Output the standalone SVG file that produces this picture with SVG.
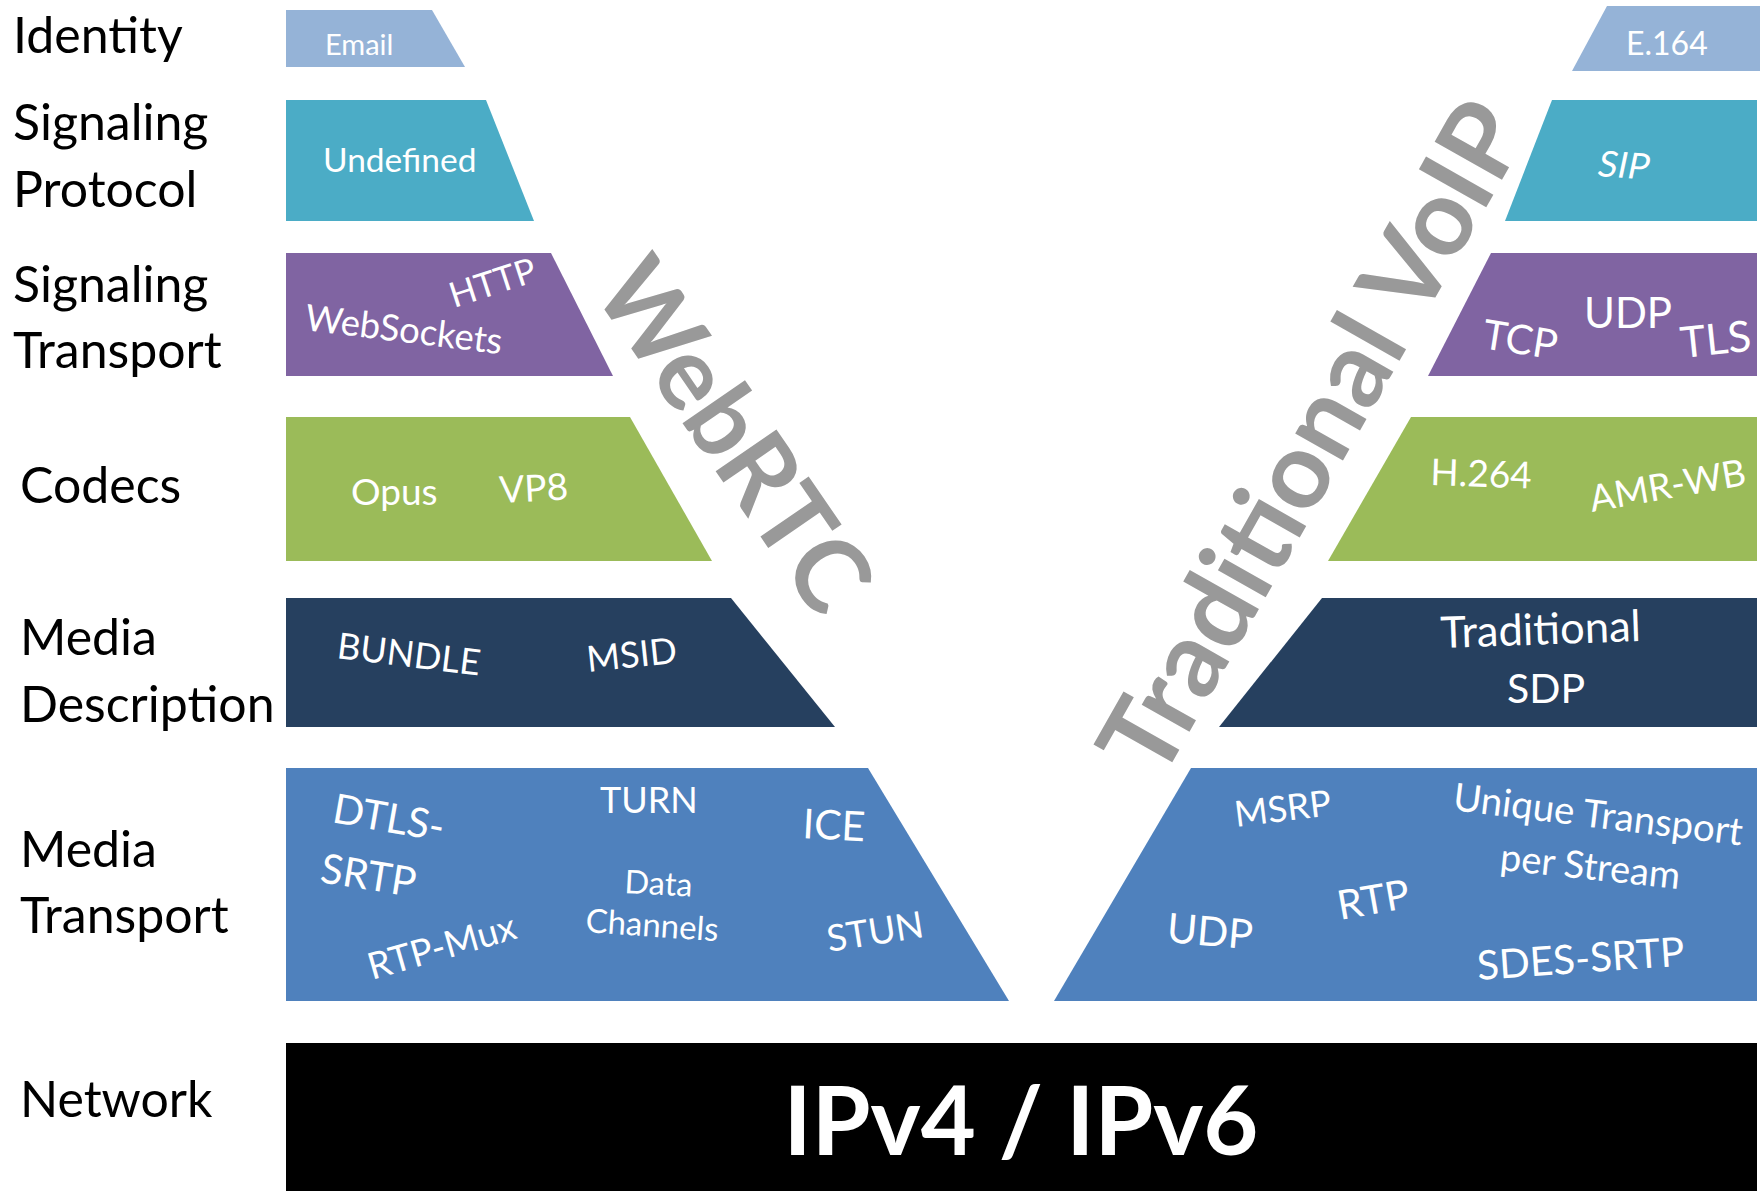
<svg xmlns="http://www.w3.org/2000/svg" width="1764" height="1191" viewBox="0 0 1764 1191">
<style>
text { font-family: Lato, "Liberation Sans", sans-serif; }
.lbl { font-size: 50px; fill: #000; }
.w { fill: #fff; }
.big { font-weight: bold; fill: #999999; }
.ident { fill: #95B3D7; }
.sigp { fill: #4BACC6; }
.sigt { fill: #8064A2; }
.codec { fill: #9BBB59; }
.mdesc { fill: #26405F; }
.mtrans { fill: #4F81BD; }
</style>
<rect x="0" y="0" width="1764" height="1191" fill="#fff"/>

<g id="labels">
<text class="lbl" x="13" y="53" font-size="51.5">Identity</text>
<text class="lbl" x="13" y="140">Signaling</text>
<text class="lbl" x="13" y="207">Protocol</text>
<text class="lbl" x="13" y="302">Signaling</text>
<text class="lbl" x="13" y="368">Transport</text>
<text class="lbl" x="20" y="503">Codecs</text>
<text class="lbl" x="20" y="655">Media</text>
<text class="lbl" x="20" y="722">Description</text>
<text class="lbl" x="20" y="867">Media</text>
<text class="lbl" x="20" y="933">Transport</text>
<text class="lbl" x="20" y="1117">Network</text>
</g>

<g id="webrtc-identity">
<polygon class="ident" points="286,10 432,10 465,67 286,67"/>
<text class="w" x="325" y="55" font-size="29">Email</text>
</g>
<g id="webrtc-signaling-protocol">
<polygon class="sigp" points="286,100 486,100 534,221 286,221"/>
<text class="w" x="323" y="172" font-size="33.5">Undefined</text>
</g>
<g id="webrtc-signaling-transport">
<polygon class="sigt" points="286,253 551,253 613,376 286,376"/>
<text class="w" font-size="35" transform="translate(454,308) rotate(-18)">HTTP</text>
<text class="w" font-size="36.5" transform="translate(304,330) rotate(7)">WebSockets</text>
</g>
<g id="webrtc-codecs">
<polygon class="codec" points="286,417 630,417 712,561 286,561"/>
<text class="w" x="351" y="505" font-size="37">Opus</text>
<text class="w" font-size="37" transform="translate(500,503) rotate(-3)">VP8</text>
</g>
<g id="webrtc-media-description">
<polygon class="mdesc" points="286,598 731,598 835,727 286,727"/>
<text class="w" font-size="36" transform="translate(336,658) rotate(7)">BUNDLE</text>
<text class="w" font-size="36" transform="translate(588,672) rotate(-6)">MSID</text>
</g>
<g id="webrtc-media-transport">
<polygon class="mtrans" points="286,768 868,768 1009,1001 286,1001"/>
<text class="w" font-size="41" transform="translate(331,822) rotate(10)">DTLS-</text>
<text class="w" font-size="41" transform="translate(319,882) rotate(9)">SRTP</text>
<text class="w" x="600" y="813" font-size="36">TURN</text>
<text class="w" font-size="41" transform="translate(802,838) rotate(3)">ICE</text>
<text class="w" font-size="32.5" transform="translate(624,893) rotate(3)">Data</text>
<text class="w" font-size="33" transform="translate(585,932) rotate(4)">Channels</text>
<text class="w" font-size="37" transform="translate(372,980) rotate(-16)">RTP-Mux</text>
<text class="w" font-size="37" transform="translate(829,952) rotate(-9)">STUN</text>
</g>

<g id="voip-identity">
<polygon class="ident" points="1607,6 1760,6 1760,71 1572,71"/>
<text class="w" x="1626" y="55" font-size="32">E.164</text>
</g>
<g id="voip-signaling-protocol">
<polygon class="sigp" points="1552,100 1757,100 1757,221 1505,221"/>
<text class="w" font-size="36" transform="translate(1596,176) rotate(4) skewX(-8)">SIP</text>
</g>
<g id="voip-signaling-transport">
<polygon class="sigt" points="1491,253 1757,253 1757,376 1428,376"/>
<text class="w" font-size="41" transform="translate(1481,348) rotate(9)">TCP</text>
<text class="w" x="1584" y="328" font-size="42">UDP</text>
<text class="w" font-size="43" transform="translate(1682,358) rotate(-6)">TLS</text>
</g>
<g id="voip-codecs">
<polygon class="codec" points="1411,417 1757,417 1757,561 1328,561"/>
<text class="w" font-size="37" transform="translate(1430,485) rotate(2)">H.264</text>
<text class="w" font-size="37" transform="translate(1592,512) rotate(-10)">AMR-WB</text>
</g>
<g id="voip-media-description">
<polygon class="mdesc" points="1322,598 1757,598 1757,727 1219,727"/>
<text class="w" font-size="43.5" transform="translate(1441,648) rotate(-2)">Traditional</text>
<text class="w" x="1507" y="703" font-size="41">SDP</text>
</g>
<g id="voip-media-transport">
<polygon class="mtrans" points="1191,768 1757,768 1757,1001 1054,1001"/>
<text class="w" font-size="36" transform="translate(1236,827) rotate(-7)">MSRP</text>
<text class="w" font-size="38.5" transform="translate(1452,810) rotate(7)">Unique Transport</text>
<text class="w" font-size="38" transform="translate(1499,870) rotate(6)">per Stream</text>
<text class="w" font-size="40.5" transform="translate(1340,920) rotate(-10)">RTP</text>
<text class="w" font-size="41" transform="translate(1166,942) rotate(5)">UDP</text>
<text class="w" font-size="40.5" transform="translate(1478,980) rotate(-4)">SDES-SRTP</text>
</g>

<g id="network">
<rect x="286" y="1043" width="1471" height="148" fill="#000"/>
<text x="1021" y="1155" fill="#fff" font-size="95" font-weight="bold" text-anchor="middle">IPv4 / IPv6</text>
</g>

<g id="titles">
<text class="big" font-size="102" transform="translate(591,290) rotate(55.5)">WebRTC</text>
<text class="big" font-size="107" transform="translate(1160,784) rotate(-60.5)">Traditional VoIP</text>
</g>

<g id="connectors"></g>
</svg>
